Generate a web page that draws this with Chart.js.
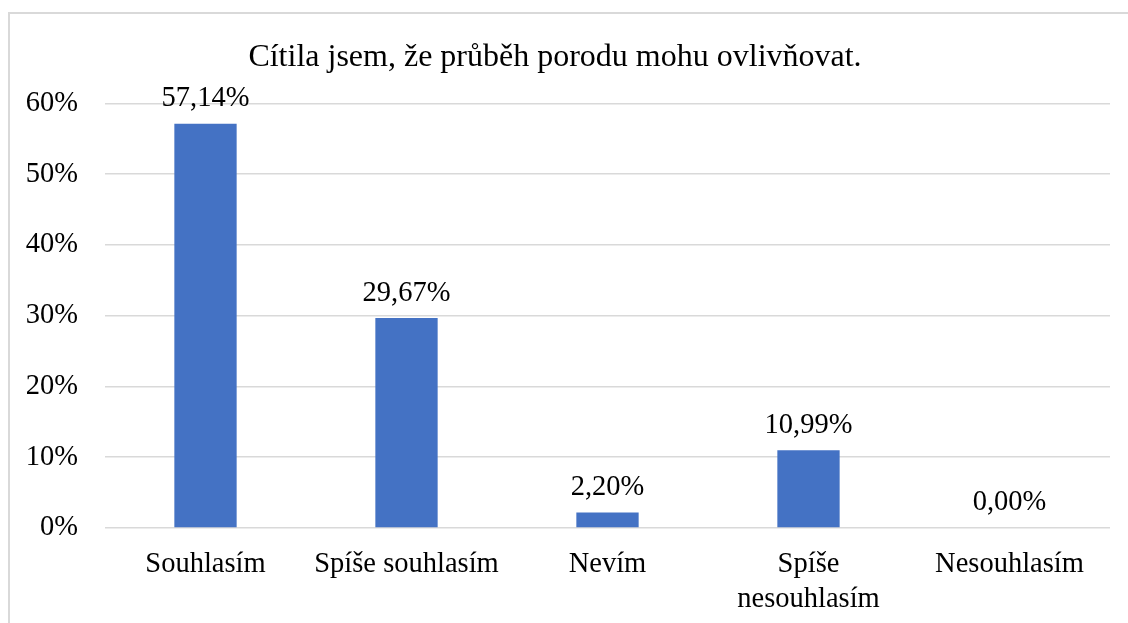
<!DOCTYPE html>
<html>
<head>
<meta charset="utf-8">
<script src="https://cdn.jsdelivr.net/npm/chart.js"></script>
<style>
    html, body { margin: 0; padding: 0; background: #fff; overflow: hidden; }
    #wrap { position: relative; width: 1128px; height: 623px; }
    #frame { position: absolute; left: 8px; top: 12px; width: 1200px; height: 700px; border: 2px solid #d9d9d9; box-sizing: border-box; }
    #myChart { position: absolute; left: 0; top: 0; }
</style>
</head>
<body>
<div id="wrap">
    <div id="frame"></div>
    <canvas id="myChart" width="1128" height="623"></canvas>
</div>
<script>
const categories = ['Souhlasím', 'Spíše souhlasím', 'Nevím', ['Spíše', 'nesouhlasím'], 'Nesouhlasím'];
const values = [57.14, 29.67, 2.20, 10.99, 0.00];
const yTicks = [0, 10, 20, 30, 40, 50, 60];
const titleText = 'Cítila jsem, že průběh porodu mohu ovlivňovat.';

const fontFamily = '"Liberation Serif", "Times New Roman", serif';

const valueLabels = {
    id: 'valueLabels',
    afterDatasetsDraw(chart) {
        const ctx = chart.ctx;
        const meta = chart.getDatasetMeta(0);
        ctx.save();
        ctx.font = '28.5px ' + fontFamily;
        ctx.fillStyle = '#000';
        ctx.textAlign = 'center';
        ctx.textBaseline = 'middle';
        meta.data.forEach((bar, i) => {
            const txt = values[i].toFixed(2).replace('.', ',') + '%';
            ctx.fillText(txt, bar.x, bar.y - 25);
        });
        ctx.restore();
    }
};

const main = () => {
    const config = {
        type: 'bar',
        data: {
            labels: categories,
            datasets: [{
                data: values,
                backgroundColor: '#4472C4',
                categoryPercentage: 1,
                barPercentage: 0.31
            }]
        },
        options: {
            responsive: false,
            animation: false,
            layout: { padding: { left: 0, right: 18, top: 0, bottom: 0 } },
            plugins: {
                legend: { display: false },
                tooltip: { enabled: false },
                title: {
                    display: true,
                    text: titleText,
                    color: '#000',
                    font: { family: fontFamily, size: 32, weight: 'normal', lineHeight: 1.2 },
                    padding: { top: 38, bottom: 27 }
                }
            },
            scales: {
                x: {
                    grid: { display: false, drawTicks: false },
                    border: { display: false },
                    ticks: {
                        color: '#000',
                        font: { family: fontFamily, size: 28.5, lineHeight: 1.23 },
                        padding: 19,
                        maxRotation: 0,
                        autoSkip: false
                    },
                    afterFit: (scale) => { scale.height = 95; }
                },
                y: {
                    min: 0,
                    max: 60,
                    afterBuildTicks: (scale) => { scale.ticks = yTicks.map(v => ({ value: v })); },
                    grid: { color: '#d9d9d9', lineWidth: 1.5, drawTicks: false },
                    border: { display: false },
                    ticks: {
                        color: '#000',
                        font: { family: fontFamily, size: 28.5 },
                        padding: 27,
                        callback: (v) => v + '%'
                    },
                    afterFit: (scale) => { scale.width = 105; }
                }
            }
        },
        plugins: [valueLabels]
    };

    new Chart(document.getElementById('myChart'), config);
};

window.onload = () => main();
</script>
</body>
</html>
